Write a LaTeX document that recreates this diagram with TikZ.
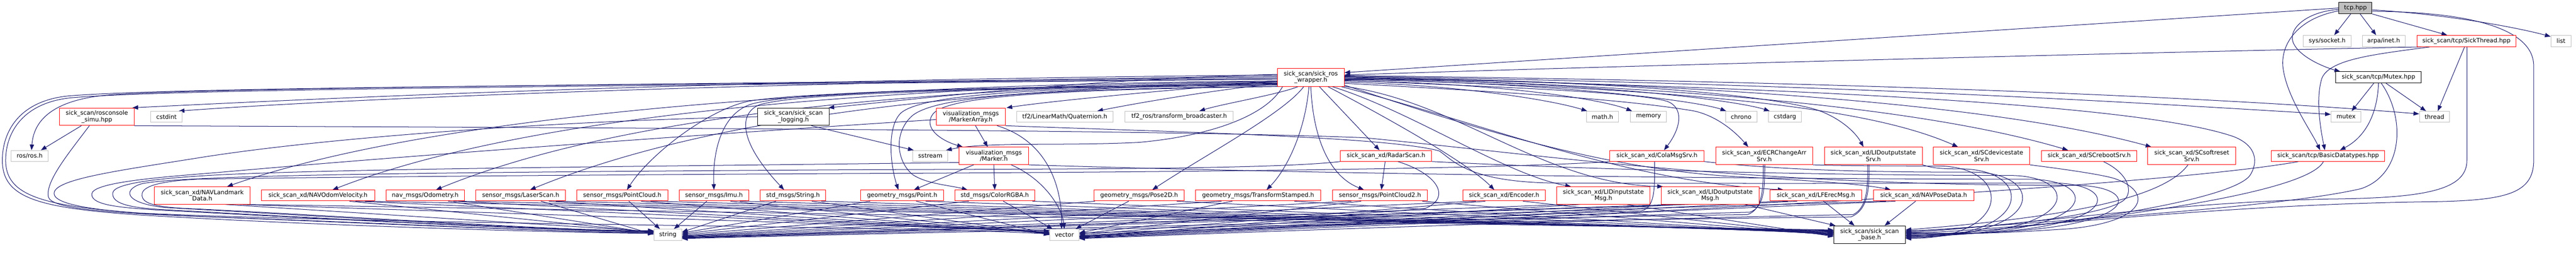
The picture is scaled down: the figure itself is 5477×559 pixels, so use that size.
\documentclass[tikz,border=0pt]{standalone}
\usepackage{fontspec}
\newfontfamily\dvs{DejaVu Sans}
\usetikzlibrary{arrows.meta}
\pgfdeclarelayer{bg}
\pgfsetlayers{bg,main}
\definecolor{mblue}{HTML}{191970}
\definecolor{gbord}{HTML}{BFBFBF}
\definecolor{rbord}{HTML}{FF0000}
\definecolor{gfill}{HTML}{BFBFBF}
\newcommand\nfont{\dvs\fontsize{12.7pt}{13.4pt}\selectfont}
\tikzset{
  nd/.style={draw, fill=white, line width=1.1pt, inner sep=0pt, align=center, font=\nfont, minimum height=23pt},
  rb/.style={nd, draw=rbord},
  gb/.style={nd, draw=gbord},
  kb/.style={nd, draw=black},
  tl/.style={minimum height=37pt},
  ed/.style={draw=mblue, line width=1.1pt, -{Triangle[length=12pt,width=9pt]}},
}
\begin{document}
\begin{tikzpicture}[x=1pt,y=-1pt]
\useasboundingbox (0,0) rectangle (5477,559);
% ---------- nodes ----------
\node[kb, fill=gfill, minimum width=70pt, minimum height=24pt] (tcp) at (5008,17) {tcp.hpp};
\node[gb, minimum width=102pt, minimum height=24pt] (sock) at (4948,87) {sys/socket.h};
\node[gb, minimum width=91pt, minimum height=24pt] (inet) at (5068,87) {arpa/inet.h};
\node[rb, minimum width=211pt, minimum height=24pt] (sthr) at (5244,87) {sick\_scan/tcp/SickThread.hpp};
\node[gb, minimum width=43pt, minimum height=24pt] (list) at (5445,87) {list};
\node[rb, minimum width=142pt, minimum height=38pt] (wr) at (2787,164) {sick\_scan/sick\_ros\\\_wrapper.h};
\node[kb, minimum width=182pt, minimum height=24pt] (mtxh) at (5057,164) {sick\_scan/tcp/Mutex.hpp};
\node[gb, minimum width=64pt] (mutex) at (4988,247.5) {mutex};
\node[gb, minimum width=64pt] (thread) at (5176,247.5) {thread};
\node[rb, tl, minimum width=158pt] (rsimu) at (206,247.5) {sick\_scan/rosconsole\\\_simu.hpp};
\node[gb, minimum width=67pt] (cstdint) at (354,247.5) {cstdint};
\node[kb, tl, minimum width=152pt] (log) at (1687,247.5) {sick\_scan/sick\_scan\\\_logging.h};
\node[rb, tl, minimum width=147pt] (marr) at (2064,247.5) {visualization\_msgs\\/MarkerArray.h};
\node[gb, minimum width=205pt] (quat) at (2264,247.5) {tf2/LinearMath/Quaternion.h};
\node[gb, minimum width=230pt] (tfb) at (2507,247.5) {tf2\_ros/transform\_broadcaster.h};
\node[gb, minimum width=68pt] (math) at (3407,247.5) {math.h};
\node[gb, minimum width=77pt] (memory) at (3505,247.5) {memory};
\node[gb, minimum width=67pt] (chrono) at (3702,247.5) {chrono};
\node[gb, minimum width=70pt] (cstdarg) at (3795,247.5) {cstdarg};
\node[gb, minimum width=78pt] (rosh) at (63,330.5) {ros/ros.h};
\node[gb, minimum width=74pt] (sstream) at (1978,330.5) {sstream};
\node[rb, tl, minimum width=147pt] (marker) at (2113,330.5) {visualization\_msgs\\/Marker.h};
\node[rb, minimum width=194pt] (radar) at (2947,330.5) {sick\_scan\_xd/RadarScan.h};
\node[rb, minimum width=200pt] (cola) at (3523,330.5) {sick\_scan\_xd/ColaMsgSrv.h};
\node[rb, tl, minimum width=206pt] (ecr) at (3751,330.5) {sick\_scan\_xd/ECRChangeArr\\Srv.h};
\node[rb, tl, minimum width=208pt] (lidos) at (3983,330.5) {sick\_scan\_xd/LIDoutputstate\\Srv.h};
\node[rb, tl, minimum width=205pt] (scdev) at (4213,330.5) {sick\_scan\_xd/SCdevicestate\\Srv.h};
\node[rb, minimum width=202pt] (screb) at (4442,330.5) {sick\_scan\_xd/SCrebootSrv.h};
\node[rb, tl, minimum width=187pt] (scsoft) at (4660,330.5) {sick\_scan\_xd/SCsoftreset\\Srv.h};
\node[rb, minimum width=241pt] (bdt) at (4950,330.5) {sick\_scan/tcp/BasicDatatypes.hpp};
\node[rb, tl, minimum width=204pt] (navlm) at (430,414.5) {sick\_scan\_xd/NAVLandmark\\Data.h};
\node[rb, minimum width=241pt] (navov) at (676,414.5) {sick\_scan\_xd/NAVOdomVelocity.h};
\node[rb, minimum width=167pt] (odom) at (904,414.5) {nav\_msgs/Odometry.h};
\node[rb, minimum width=190pt] (laser) at (1107,414.5) {sensor\_msgs/LaserScan.h};
\node[rb, minimum width=194pt] (pcl) at (1323,414.5) {sensor\_msgs/PointCloud.h};
\node[rb, minimum width=148pt] (imu) at (1518,414.5) {sensor\_msgs/Imu.h};
\node[rb, minimum width=139pt] (str) at (1686,414.5) {std\_msgs/String.h};
\node[rb, minimum width=176pt] (point) at (1918,414.5) {geometry\_msgs/Point.h};
\node[rb, minimum width=170pt] (color) at (2115,414.5) {std\_msgs/ColorRGBA.h};
\node[rb, minimum width=192pt] (pose2d) at (2422,414.5) {geometry\_msgs/Pose2D.h};
\node[rb, minimum width=266pt] (tfst) at (2675,414.5) {geometry\_msgs/TransformStamped.h};
\node[rb, minimum width=201pt] (pcl2) at (2934,414.5) {sensor\_msgs/PointCloud2.h};
\node[rb, minimum width=175pt] (enc) at (3198,414.5) {sick\_scan\_xd/Encoder.h};
\node[rb, tl, minimum width=199pt] (lidis) at (3409,414.5) {sick\_scan\_xd/LIDinputstate\\Msg.h};
\node[rb, tl, minimum width=208pt] (lidom) at (3636,414.5) {sick\_scan\_xd/LIDoutputstate\\Msg.h};
\node[rb, minimum width=195pt] (lfe) at (3861,414.5) {sick\_scan\_xd/LFErecMsg.h};
\node[rb, minimum width=213pt] (navpd) at (4090,414.5) {sick\_scan\_xd/NAVPoseData.h};
\node[gb, minimum width=59pt, minimum height=24pt] (string) at (1420,498) {string};
\node[gb, minimum width=62pt, minimum height=24pt] (vector) at (2263,498) {vector};
\node[kb, tl, minimum width=152pt] (base) at (3975,497.5) {sick\_scan/sick\_scan\\\_base.h};
% ---------- edges ----------
\begin{pgfonlayer}{bg}
\fill[white] (0,0) rectangle (5477,559);
% tcp.hpp
\draw[ed] (tcp.west) -- (wr.8);
\draw[ed] ([xshift=-10pt]tcp.south) -- ([xshift=15pt]sock.north);
\draw[ed] ([xshift=10pt]tcp.south) -- ([xshift=-16pt]inet.north);
\draw[ed] (tcp.south east) -- ([xshift=-41pt]sthr.north);
\draw[ed] ([yshift=-4pt]tcp.east) .. controls (5200,30) and (5350,58) .. ([yshift=-3pt]list.north west);
\draw[ed] ([yshift=-3pt]tcp.west) .. controls (4900,25) and (4860,65) .. (4878,95) .. controls (4895,125) and (4950,145) .. ([xshift=10pt]mtxh.north west);
\draw[ed] ([yshift=-6pt]tcp.west) .. controls (4880,40) and (4845,100) .. (4855,150) .. controls (4865,210) and (4915,280) .. ([xshift=-17pt]bdt.north);
\draw[ed] ([yshift=-7pt]tcp.east) .. controls (5250,25) and (5387,60) .. (5387,140) -- (5387,340) .. controls (5387,415) and (5320,426) .. (5150,428) .. controls (4700,435) and (4300,485) .. ([yshift=2pt]base.east);
% SickThread / Mutex / BasicDatatypes
\draw[ed] ([xshift=10pt]sthr.south west) .. controls (4700,108) and (3600,135) .. (wr.4);
\draw[ed] ([xshift=-4pt]sthr.south) -- ([xshift=7pt]thread.north);
\draw[ed] ([xshift=28pt]sthr.south west) .. controls (5050,115) and (4955,125) .. (4937,165) .. controls (4922,210) and (4935,280) .. ([xshift=-7pt]bdt.north);
\draw[ed] ([xshift=1pt]sthr.south) -- (5245,340) .. controls (5245,405) and (5150,420) .. (4950,422) .. controls (4600,430) and (4300,478) .. ([yshift=4pt]base.east);
\draw[ed] ([xshift=-10pt]mtxh.south) -- ([xshift=12pt]mutex.north);
\draw[ed] ([xshift=16pt]mtxh.south) -- ([xshift=-18pt]thread.north);
\draw[ed] (mtxh.south) .. controls (5055,240) and (5030,290) .. ([xshift=25pt]bdt.north);
\draw[ed] ([xshift=6pt]mtxh.south) .. controls (5115,250) and (5110,370) .. (5020,400) .. controls (4850,440) and (4350,470) .. ([yshift=6pt]base.east);
\draw[ed] ([xshift=-10pt]bdt.south) .. controls (4900,420) and (4350,480) .. ([yshift=-6pt]base.east);
\draw[ed] ([xshift=-63pt]bdt.south) .. controls (4600,395) and (3300,470) .. ([yshift=4pt]vector.east);
% wrapper -> left
\draw[ed] (wr.176) .. controls (1500,170) and (700,208) .. ([xshift=-4pt]rsimu.north east);
\draw[ed] (wr.178) .. controls (1500,176) and (700,212) .. ([xshift=-8pt]cstdint.north east);
\draw[ed] (wr.180) .. controls (1400,178) and (500,186) .. (250,200) .. controls (120,207) and (72,250) .. ([xshift=4pt]rosh.north);
\draw[ed] (wr.182) .. controls (1400,180) and (400,184) .. (150,203) .. controls (40,212) and (5,280) .. (5,340) .. controls (5,420) and (80,441) .. (300,456) .. controls (700,480) and (1200,493) .. ([yshift=3pt]string.west);
\draw[ed] (wr.183) .. controls (1400,182) and (400,187) .. (155,207) .. controls (50,216) and (12,280) .. (12,340) .. controls (12,415) and (90,437) .. (300,452) .. controls (900,478) and (1900,478) .. ([yshift=2pt]vector.west);
\draw[ed] (wr.186) .. controls (1700,180) and (900,250) .. ([xshift=53pt]navlm.north);
\draw[ed] (wr.187) .. controls (1800,183) and (1100,250) .. ([xshift=31pt]navov.north);
\draw[ed] (wr.188) .. controls (1900,186) and (1300,250) .. ([xshift=23pt]odom.north);
\draw[ed] (wr.189) .. controls (2000,188) and (1480,258) .. ([xshift=20pt]laser.north);
\draw[ed] (wr.190) .. controls (2100,188) and (1700,195) .. (1590,215) .. controls (1500,235) and (1380,330) .. ([xshift=10pt]pcl.north);
\draw[ed] (wr.191) .. controls (2000,186) and (1700,195) .. (1600,220) .. controls (1530,240) and (1515,330) .. (imu.north);
\draw[ed] (wr.192) .. controls (2000,190) and (1700,198) .. (1615,222) .. controls (1570,240) and (1570,300) .. ([xshift=-19pt]str.north);
\draw[ed] (wr.175) .. controls (2300,168) and (1950,210) .. ([xshift=-2pt]log.north east);
\draw[ed] (wr.193) .. controls (2200,185) and (1960,200) .. (1915,240) .. controls (1885,270) and (1893,350) .. ([xshift=-8pt]point.north);
\draw[ed] (wr.195) .. controls (2200,188) and (1990,205) .. (1940,245) .. controls (1900,280) and (1905,340) .. (1940,370) .. controls (1970,390) and (2020,393) .. ([xshift=-58pt]color.north);
\draw[ed] (wr.196) .. controls (2220,190) and (2020,205) .. (1985,240) .. controls (1960,270) and (2000,298) .. ([xshift=8pt]marker.north west);
\draw[ed] (wr.186) .. controls (2500,190) and (2250,212) .. ([xshift=2pt]marr.north east);
\draw[ed] (wr.190) .. controls (2550,195) and (2400,222) .. ([xshift=69pt]quat.north);
\draw[ed] ([xshift=-27pt]wr.south) .. controls (2720,200) and (2600,220) .. ([xshift=43pt]tfb.north);
\draw[ed] ([xshift=-60pt]wr.south) .. controls (2690,250) and (2560,290) .. (2420,302) .. controls (2250,310) and (2100,300) .. ([xshift=-4pt]sstream.north east);
\draw[ed] ([xshift=-15pt]wr.south) .. controls (2730,240) and (2560,330) .. ([xshift=28pt]pose2d.north);
\draw[ed] ([xshift=-4pt]wr.south) .. controls (2775,280) and (2735,360) .. ([xshift=18pt]tfst.north);
\draw[ed] (wr.south) .. controls (2792,300) and (2830,375) .. ([xshift=-34pt]pcl2.north);
\draw[ed] ([xshift=18pt]wr.south) -- ([xshift=-14pt]radar.north);
% wrapper -> right
\draw[ed] (wr.-8) .. controls (3100,180) and (3300,212) .. ([xshift=2pt]math.north west);
\draw[ed] (wr.-6) .. controls (3200,176) and (3410,212) .. ([xshift=4pt]memory.north west);
\draw[ed] (wr.-4) .. controls (3300,174) and (3610,214) .. ([xshift=2pt]chrono.north west);
\draw[ed] (wr.-3) .. controls (3400,172) and (3700,215) .. ([xshift=3pt]cstdarg.north west);
\draw[ed] (wr.-5) .. controls (3200,185) and (3480,195) .. (3545,215) .. controls (3580,228) and (3575,270) .. ([xshift=15pt]cola.north);
\draw[ed] (wr.-10) .. controls (3200,195) and (3450,210) .. (3600,235) .. controls (3650,245) and (3690,280) .. ([xshift=-34pt]ecr.north);
\draw[ed] (wr.-2) .. controls (3400,168) and (3750,200) .. (3860,232) .. controls (3910,248) and (3945,280) .. ([xshift=-21pt]lidos.north);
\draw[ed] (wr.-3) .. controls (3700,190) and (4000,240) .. ([xshift=-50pt]scdev.north);
\draw[ed] (wr.-1) .. controls (3800,185) and (4200,260) .. ([xshift=-45pt]screb.north);
\draw[ed] (wr.1) .. controls (3900,182) and (4350,250) .. ([xshift=8pt]scsoft.north west);
\draw[ed] (wr.2) .. controls (3900,178) and (4500,215) .. ([yshift=5pt]mutex.west);
\draw[ed] (wr.3) .. controls (3900,172) and (4700,205) .. ([yshift=6pt]thread.west);
\draw[ed] ([xshift=36pt]wr.south) .. controls (2950,250) and (3120,345) .. ([xshift=-21pt]enc.north);
\draw[ed] ([xshift=45pt]wr.south) .. controls (3000,235) and (3200,370) .. ([xshift=-69pt]lidis.north);
\draw[ed] (wr.-15) .. controls (3100,215) and (3280,390) .. ([xshift=4pt]lidom.north west);
\draw[ed] (wr.-17) .. controls (3150,260) and (3450,385) .. ([xshift=29pt]lfe.north west);
\draw[ed] (wr.-13) .. controls (3100,260) and (3400,360) .. (3700,375) .. controls (3850,383) and (3960,390) .. ([xshift=37pt]navpd.north west);
\draw[ed] (wr.0) .. controls (3800,185) and (4550,220) .. (4750,290) .. controls (4800,310) and (4800,345) .. (4785,370) .. controls (4750,430) and (4300,490) .. ([yshift=-2pt]base.east);
% loops into base (right side)
\draw[ed] (ecr.south east) .. controls (3900,351) and (4000,352) .. (4120,352) .. controls (4280,352) and (4280,505) .. ([yshift=-8pt]base.east);
\draw[ed] (lidos.south east) .. controls (4110,357) and (4130,358) .. (4167,358) .. controls (4327,358) and (4327,505) .. ([yshift=-6pt]base.east);
\draw[ed] (cola.south east) .. controls (3800,362) and (3990,365) .. (4193,365) .. controls (4353,365) and (4353,505) .. ([yshift=-4pt]base.east);
\draw[ed] (radar.south east) .. controls (3500,365) and (4000,372) .. (4272,372) .. controls (4432,372) and (4432,505) .. ([yshift=-2pt]base.east);
\draw[ed] (marker.south east) .. controls (3000,375) and (4000,380) .. (4313,380) .. controls (4473,380) and (4473,505) .. (base.east);
\draw[ed] (marr.south east) .. controls (2500,280) and (2950,290) .. (3060,320) .. controls (3090,340) and (3120,385) .. (3300,388) .. controls (3900,390) and (4100,388) .. (4363,388) .. controls (4523,388) and (4523,505) .. ([yshift=2pt]base.east);
\draw[ed] (rsimu.south east) .. controls (1500,272) and (2500,276) .. (2900,292) .. controls (3300,330) and (3700,393) .. (4410,393) .. controls (4570,393) and (4570,505) .. ([yshift=4pt]base.east);
\draw[ed] (scdev.south east) .. controls (4400,360) and (4480,372) .. (4500,380) .. controls (4580,410) and (4560,470) .. (4400,485) .. controls (4250,495) and (4150,498) .. ([yshift=6pt]base.east);
\draw[ed] ([xshift=30pt]screb.south) .. controls (4520,365) and (4535,400) .. (4520,420) .. controls (4490,460) and (4200,485) .. ([yshift=8pt]base.east);
\draw[ed] ([xshift=-8pt]scsoft.south) .. controls (4600,420) and (4400,460) .. ([yshift=10pt]base.east);
% loops into string (left side)
\draw[ed] ([xshift=-16pt]rsimu.south) .. controls (150,320) and (95,385) .. (103,418) .. controls (110,440) and (200,450) .. (400,458) .. controls (800,474) and (1200,492) .. ([yshift=4pt]string.west);
\draw[ed] (log.west) .. controls (1200,256) and (700,290) .. (420,335) .. controls (250,362) and (115,380) .. (115,410) .. controls (115,440) and (250,452) .. (450,460) .. controls (900,476) and (1200,493) .. ([yshift=5pt]string.west);
\draw[ed] ([yshift=-6pt]marr.west) .. controls (1500,285) and (900,327) .. (460,366) .. controls (320,377) and (195,388) .. (195,412) .. controls (195,436) and (260,440) .. (330,445) .. controls (700,465) and (1200,490) .. ([yshift=6pt]string.west);
\draw[ed] ([yshift=-14pt]marker.west) .. controls (1500,352) and (800,356) .. (480,370) .. controls (340,377) and (245,388) .. (240,408) .. controls (236,430) and (270,440) .. (340,444) .. controls (700,464) and (1200,490) .. ([yshift=7pt]string.west);
\draw[ed] (radar.south west) .. controls (2700,360) and (2200,358) .. (1800,360) .. controls (1000,365) and (380,370) .. (300,390) .. controls (262,402) and (262,430) .. (350,440) .. controls (800,465) and (1200,490) .. ([yshift=8pt]string.west);
\draw[ed] (cola.south west) .. controls (3200,358) and (2500,365) .. (1800,368) .. controls (1000,372) and (520,378) .. (420,380) .. controls (320,385) and (300,400) .. (302,415) .. controls (304,432) and (330,440) .. (420,443) .. controls (800,462) and (1200,490) .. ([yshift=9pt]string.west);
% mid-row edges
\draw[ed] ([xshift=10pt]marr.south) -- ([xshift=-13pt]marker.north);
\draw[ed] ([xshift=56pt]marr.south) .. controls (2230,300) and (2258,400) .. ([xshift=-6pt]vector.north);
\draw[ed] ([xshift=-43pt]marker.south) -- ([xshift=25pt]point.north);
\draw[ed] (marker.south) -- (color.north);
\draw[ed] ([xshift=37pt]marker.south) .. controls (2220,380) and (2258,440) .. (vector.north);
\draw[ed] ([xshift=-2pt]radar.south) -- ([xshift=3pt]pcl2.north);
\draw[ed] ([xshift=25pt]radar.south) .. controls (3060,370) and (3085,420) .. (3030,442) .. controls (2800,460) and (2500,490) .. ([yshift=-3pt]vector.east);
\draw[ed] ([xshift=-33pt]rsimu.south) -- ([xshift=24pt]rosh.north);
\draw[ed] ([xshift=38pt]log.south) -- ([xshift=2pt]sstream.north west);
\draw[ed] ([xshift=-5pt]cola.south) .. controls (3518,395) and (3520,440) .. (3490,447) .. controls (3200,455) and (2700,485) .. ([yshift=-6pt]vector.east);
\draw[ed] ([xshift=1pt]ecr.south) .. controls (3752,395) and (3752,440) .. (3720,450) .. controls (3300,460) and (2700,488) .. ([yshift=-7pt]vector.east);
\draw[ed] ([xshift=-2pt]ecr.south) .. controls (3749,395) and (3749,445) .. (3715,455) .. controls (3000,465) and (1900,492) .. ([yshift=-7pt]string.east);
\draw[ed] ([xshift=-12pt]lidos.south) .. controls (3971,395) and (3971,440) .. (3940,455) .. controls (3400,465) and (2700,490) .. ([yshift=-8pt]vector.east);
\draw[ed] ([xshift=-9pt]lidos.south) .. controls (3974,395) and (3974,445) .. (3935,460) .. controls (3000,470) and (1900,494) .. ([yshift=-8pt]string.east);
% bottom row -> string
\foreach \n/\a/\b in {navlm/50/7, navov/67/5, odom/49/3, laser/43/1}
  \draw[ed] ([xshift=\a pt]\n.south) -- ([yshift=\b pt]string.west);
\draw[ed] ([xshift=14pt]pcl.south) -- ([xshift=-17pt]string.north);
\draw[ed] ([xshift=-15pt]imu.south) -- ([xshift=13pt]string.north);
\foreach \n/\a/\b in {str/-36/6, point/-68/4, color/-55/2, pose2d/-94/0, tfst/-78/-2, pcl2/-61/-3, enc/-60/-4, lidis/-80/-5, lidom/-80/-6, lfe/-60/-6, navpd/-80/-6}
  \draw[ed] ([xshift=\a pt]\n.south) -- ([yshift=\b pt]string.east);
% bottom row -> vector
\foreach \n/\a/\b in {navlm/80/8, navov/80/6, odom/60/5, laser/60/4, pcl/40/3, imu/35/2, str/40/1, point/30/0}
  \draw[ed] ([xshift=\a pt]\n.south) -- ([yshift=\b pt]vector.west);
\draw[ed] ([xshift=18pt]color.south) -- ([xshift=-25pt]vector.north);
\draw[ed] ([xshift=-22pt]pose2d.south) -- ([xshift=24pt]vector.north);
\foreach \n/\a/\b in {tfst/-55/4, pcl2/-40/2, enc/-40/0, lidis/-50/-2, lidom/-60/-3, lfe/-40/-4, navpd/-60/-5}
  \draw[ed] ([xshift=\a pt]\n.south) -- ([yshift=\b pt]vector.east);
% bottom row -> base
\foreach \n/\a/\b in {navlm/100/10, navov/100/9, odom/70/8, laser/75/7, pcl/60/6, imu/55/5, str/60/4, point/50/3, color/80/2, pose2d/80/1, tfst/77/0, pcl2/90/-1, enc/40/-2, lidis/50/-4}
  \draw[ed] ([xshift=\a pt]\n.south) -- ([yshift=\b pt]base.west);
\draw[ed] ([xshift=74pt]lidom.south) -- ([xshift=4pt]base.north west);
\draw[ed] ([xshift=16pt]lfe.south) -- ([xshift=-32pt]base.north);
\draw[ed] ([xshift=-17pt]navpd.south) -- ([xshift=32pt]base.north);
\end{pgfonlayer}
\end{tikzpicture}
\end{document}
